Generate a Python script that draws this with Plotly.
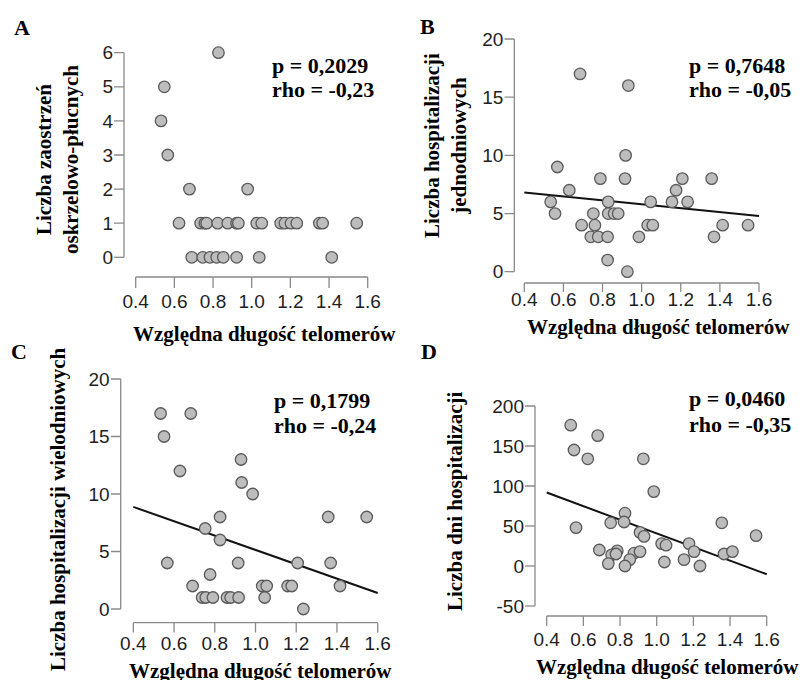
import plotly.graph_objects as go

W, H = 802, 680

# ---- data -------------------------------------------------------------
# A: bronchopulmonary exacerbations vs. relative telomere length
a_x = [0.828, 0.548, 0.531, 0.566, 0.678, 0.979,
       0.624, 0.736, 0.758, 0.767, 0.824, 0.876, 0.922, 0.931, 1.026,
       1.052, 1.150, 1.172, 1.203, 1.233, 1.350, 1.367, 1.543,
       0.690, 0.747, 0.784, 0.819, 0.853, 0.922, 1.039, 1.414]
a_y = [6, 5, 4, 3, 2, 2,
       1, 1, 1, 1, 1, 1, 1, 1, 1,
       1, 1, 1, 1, 1, 1, 1, 1,
       0, 0, 0, 0, 0, 0, 0, 0]

# B: one-day hospitalisations
b_x = [0.685, 0.932, 0.918, 0.569,
       0.789, 0.915, 1.208, 1.358,
       0.630, 1.176,
       0.535, 0.829, 1.046, 1.155, 1.235,
       0.557, 0.753, 0.829, 0.859, 0.880,
       0.693, 0.761, 1.031, 1.057, 1.414, 1.544,
       0.740, 0.778, 0.826, 0.986, 1.370,
       0.826, 0.927]
b_y = [17, 16, 10, 9,
       8, 8, 8, 8,
       7, 7,
       6, 6, 6, 6, 6,
       5, 5, 5, 5, 5,
       4, 4, 4, 4, 4, 4,
       3, 3, 3, 3, 3,
       1, 0]
b_fit = [6.81, 4.79]      # fitted value at x = 0.4 and x = 1.6

# C: multi-day hospitalisations
c_x = [0.534, 0.682, 0.551, 0.629, 0.929, 0.932, 0.986,
       0.826, 1.357, 1.546, 0.753, 0.826,
       0.567, 0.915, 1.207, 1.369, 0.777,
       0.691, 1.033, 1.055, 1.158, 1.178, 1.415,
       0.738, 0.756, 0.791, 0.860, 0.878, 0.917, 1.045,
       1.235]
c_y = [17, 17, 15, 12, 13, 11, 10,
       8, 8, 8, 7, 6,
       4, 4, 4, 4, 3,
       2, 2, 2, 2, 2, 2,
       1, 1, 1, 1, 1, 1, 1,
       0]
c_fit = [8.88, 1.39]

# D: total days in hospital
d_x = [0.531, 0.678, 0.549, 0.624, 0.927, 0.984, 0.560, 0.827,
       0.822, 0.749, 1.355, 0.909, 0.931, 1.542, 1.027, 1.051,
       1.176, 1.204, 1.367, 1.413, 0.687, 0.785, 0.754, 0.778,
       0.876, 0.909, 0.853, 0.736, 0.827, 1.042, 1.149, 1.236]
d_y = [176, 163, 145, 134, 134, 93, 48, 66,
       55, 54, 54, 42, 37, 38, 28, 26,
       28, 18, 15, 18, 20, 19, 14, 15,
       16, 18, 8, 3, 0, 5, 8, 0]
d_fit = [91.8, -10.3]

x_ticks = [0.4, 0.6, 0.8, 1.0, 1.2, 1.4, 1.6]
x_ticktext = ["0.4", "0.6", "0.8", "1.0", "1.2", "1.4", "1.6"]
fit_x = [0.4, 1.6]

x_title = "Względna długość telomerów"

stats = {
    "A": ("p = 0,2029", "rho = -0,23"),
    "B": ("p = 0,7648", "rho = -0,05"),
    "C": ("p = 0,1799", "rho = -0,24"),
    "D": ("p = 0,0460", "rho = -0,35"),
}

y_titles = {
    "A": "Liczba zaostrzeń<br>oskrzelowo-płucnych",
    "B": "Liczba hospitalizacji<br>jednodniowych",
    "C": "Liczba hospitalizacji wielodniowych",
    "D": "Liczba dni hospitalizacji",
}

y_ticks = {
    "A": [0, 1, 2, 3, 4, 5, 6],
    "B": [0, 5, 10, 15, 20],
    "C": [0, 5, 10, 15, 20],
    "D": [-50, 0, 50, 100, 150, 200],
}

# ---- layout (pixel geometry of each panel) ------------------------------
# px of first/last x tick, px of lowest/highest y tick, px of the y-axis line (left),
# px of the x-axis line (bottom), x tick length, x tick-label standoff
panels = {
    #      x_lo   x_hi   y_lo   y_hi  yaxis_x xaxis_y xlen xoff
    "A": (135.7, 367.7, 257.3, 52.7, 124.0, 277.0, 11, 0),
    "B": (524.3, 759.0, 271.7, 39.0, 514.3, 283.0, 9, -6),
    "C": (133.3, 377.7, 609.0, 379.0, 120.7, 622.7, 10, -3),
    "D": (546.7, 766.7, 606.0, 406.0, 535.0, 616.0, 10, 0),
}
Y_TICKLEN = 10

label_pos = {
    "A": dict(letter=(22, 28), stats=(270, 65, 90), ytitle=(57, 160), xtitle=(264, 334)),
    "B": dict(letter=(427, 27), stats=(687, 65, 90), ytitle=(445, 146), xtitle=(658, 327)),
    "C": dict(letter=(19, 351), stats=(272, 400, 425), ytitle=(58, 510), xtitle=(260, 671)),
    "D": dict(letter=(429, 351), stats=(687, 398, 424), ytitle=(455, 501), xtitle=(667, 667)),
}

data = {
    "A": (a_x, a_y, None),
    "B": (b_x, b_y, b_fit),
    "C": (c_x, c_y, c_fit),
    "D": (d_x, d_y, d_fit),
}


def fx(p):
    return p / W


def fy(p):
    return 1 - p / H


TICK_FONT = dict(family="Liberation Sans, Arial, sans-serif", size=19, color="#1e1e1e")
SERIF_BOLD = "Liberation Serif, Times New Roman, serif"
AXIS_COLOR = "#8a8a8a"
AXIS_W = 1.3

fig = go.Figure()
annotations = []

for i, key in enumerate(["A", "B", "C", "D"], start=1):
    xs, ys, fit = data[key]
    x_lo, x_hi, y_lo, y_hi, yax_x, xax_y, xlen, xoff = panels[key]
    yt_vals = y_ticks[key]
    xa = "x" if i == 1 else f"x{i}"
    ya = "y" if i == 1 else f"y{i}"

    # data units per pixel
    t0, t1 = x_ticks[0], x_ticks[-1]
    kx = (t1 - t0) / (x_hi - x_lo)
    v0, v1 = yt_vals[0], yt_vals[-1]
    ky = (v1 - v0) / (y_lo - y_hi)

    # plotting area reaches out to the tick ends; axes sit apart from the data (R style)
    x_axis_at = v0 - (xax_y - y_lo) * ky          # y value of the x-axis line
    y_axis_at = t0 - (x_lo - yax_x) * kx          # x value of the y-axis line
    ymin = x_axis_at - xlen * ky
    xmin = y_axis_at - Y_TICKLEN * kx

    # axis lines, spanning only the tick range
    fig.add_trace(go.Scatter(
        x=[t0, t1], y=[x_axis_at, x_axis_at], mode="lines", xaxis=xa, yaxis=ya,
        line=dict(color=AXIS_COLOR, width=AXIS_W), hoverinfo="skip", showlegend=False,
    ))
    fig.add_trace(go.Scatter(
        x=[y_axis_at, y_axis_at], y=[v0, v1], mode="lines", xaxis=xa, yaxis=ya,
        line=dict(color=AXIS_COLOR, width=AXIS_W), hoverinfo="skip", showlegend=False,
    ))
    # tick marks
    for t in x_ticks:
        fig.add_trace(go.Scatter(
            x=[t, t], y=[x_axis_at, ymin], mode="lines", xaxis=xa, yaxis=ya,
            line=dict(color=AXIS_COLOR, width=AXIS_W), hoverinfo="skip", showlegend=False,
        ))
    for v in yt_vals:
        fig.add_trace(go.Scatter(
            x=[y_axis_at, xmin], y=[v, v], mode="lines", xaxis=xa, yaxis=ya,
            line=dict(color=AXIS_COLOR, width=AXIS_W), hoverinfo="skip", showlegend=False,
        ))

    if fit is not None:
        fig.add_trace(go.Scatter(
            x=fit_x, y=fit, mode="lines", xaxis=xa, yaxis=ya,
            line=dict(color="#111111", width=2), hoverinfo="skip",
            showlegend=False,
        ))

    fig.add_trace(go.Scatter(
        x=xs, y=ys, mode="markers", xaxis=xa, yaxis=ya,
        marker=dict(size=11.5, color="#bdbdbd", line=dict(color="#5a5a5a", width=1.3)),
        showlegend=False, cliponaxis=False,
    ))

    xname = "xaxis" if i == 1 else f"xaxis{i}"
    yname = "yaxis" if i == 1 else f"yaxis{i}"

    fig.layout[xname] = dict(
        domain=[fx(yax_x - Y_TICKLEN), fx(x_hi + 8)], range=[xmin, t1 + 8 * kx], anchor=ya,
        tickvals=x_ticks, ticktext=x_ticktext, ticks="",
        showline=False, showgrid=False, zeroline=False, tickfont=TICK_FONT,
        ticklabelstandoff=xoff, automargin=False, fixedrange=True,
    )
    fig.layout[yname] = dict(
        domain=[fy(xax_y + xlen), fy(y_hi - 8)], range=[ymin, v1 + 8 * ky], anchor=xa,
        tickvals=yt_vals, ticktext=[str(v) for v in yt_vals], ticks="",
        showline=False, showgrid=False, zeroline=False, tickfont=TICK_FONT,
        automargin=False, fixedrange=True,
    )

    pos = label_pos[key]
    annotations.append(dict(
        text=f"<b>{key}</b>", x=fx(pos["letter"][0]), y=fy(pos["letter"][1]),
        xref="paper", yref="paper", showarrow=False, xanchor="center", yanchor="middle",
        font=dict(family=SERIF_BOLD, size=22, color="#000000"),
    ))
    sx, s1, s2 = pos["stats"]
    for txt, sy in zip(stats[key], (s1, s2)):
        annotations.append(dict(
            text=f"<b>{txt}</b>", x=fx(sx), y=fy(sy), xref="paper", yref="paper",
            showarrow=False, xanchor="left", yanchor="middle",
            font=dict(family=SERIF_BOLD, size=22, color="#000000"),
        ))
    annotations.append(dict(
        text=f"<b>{y_titles[key]}</b>", x=fx(pos["ytitle"][0]), y=fy(pos["ytitle"][1]),
        xref="paper", yref="paper", showarrow=False, xanchor="center", yanchor="middle",
        textangle=-90, font=dict(family=SERIF_BOLD, size=21, color="#000000"),
    ))
    annotations.append(dict(
        text=f"<b>{x_title}</b>", x=fx(pos["xtitle"][0]), y=fy(pos["xtitle"][1]),
        xref="paper", yref="paper", showarrow=False, xanchor="center", yanchor="middle",
        font=dict(family=SERIF_BOLD, size=21, color="#000000"),
    ))

fig.update_layout(
    template="none",
    width=W, height=H, margin=dict(l=0, r=0, t=0, b=0, autoexpand=False),
    paper_bgcolor="white", plot_bgcolor="white",
    annotations=annotations, showlegend=False,
)

fig.write_html("out.html")
